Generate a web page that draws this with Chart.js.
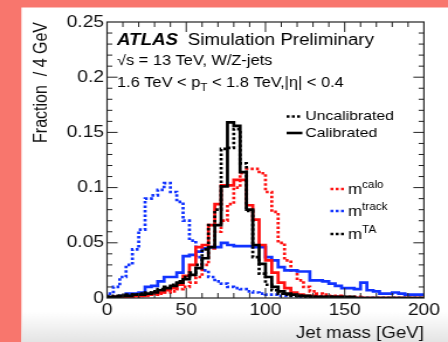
<!DOCTYPE html>
<html>
<head>
<meta charset="utf-8">
<script src="https://cdn.jsdelivr.net/npm/chart.js@4.4.1/dist/chart.umd.min.js"></script>
<style>
  html, body { margin: 0; padding: 0; background: #f8766d; overflow: hidden; }
  #chart { display: block; }
</style>
</head>
<body>
<!-- the plot is drawn narrow and widened by CSS, like the original image -->
<canvas id="chart" width="383" height="342" style="width:448px;height:342px"></canvas>
<script>
// jet mass bins: 50 bins of 4 GeV from 0 to 200
const binWidth = 4;
const xTicks = [0, 50, 100, 150, 200];
const yTicks = [0, 0.05, 0.1, 0.15, 0.2, 0.25];

// m^TA
const taCalibrated = [0.000, 0.001, 0.001, 0.002, 0.002, 0.003, 0.003, 0.004, 0.005, 0.007,
    0.009, 0.011, 0.014, 0.017, 0.021, 0.027, 0.036, 0.046, 0.066, 0.101,
    0.159, 0.156, 0.114, 0.080, 0.048, 0.031, 0.019, 0.010, 0.006, 0.004,
    0.003, 0.002, 0.002, 0.001, 0.001, 0.001, 0.001, 0.001, 0.001, 0.001,
    0.000, 0.000, 0.000, 0.000, 0.000, 0.000, 0.000, 0.000, 0.000, 0.000];
const taUncalibrated = [0.001, 0.001, 0.002, 0.002, 0.003, 0.003, 0.004, 0.005, 0.006, 0.008,
    0.010, 0.012, 0.015, 0.019, 0.023, 0.030, 0.044, 0.066, 0.080, 0.135,
    0.136, 0.153, 0.122, 0.079, 0.037, 0.022, 0.012, 0.007, 0.004, 0.003,
    0.002, 0.002, 0.001, 0.001, 0.001, 0.001, 0.001, 0.000, 0.000, 0.000,
    0.000, 0.000, 0.000, 0.000, 0.000, 0.000, 0.000, 0.000, 0.000, 0.000];

// m^calo
const caloCalibrated = [0.000, 0.000, 0.001, 0.001, 0.001, 0.002, 0.002, 0.003, 0.004, 0.005,
    0.007, 0.009, 0.012, 0.020, 0.030, 0.046, 0.048, 0.066, 0.085, 0.102,
    0.102, 0.107, 0.107, 0.084, 0.071, 0.048, 0.034, 0.023, 0.014, 0.009,
    0.005, 0.003, 0.002, 0.002, 0.001, 0.001, 0.001, 0.001, 0.000, 0.000,
    0.000, 0.000, 0.000, 0.000, 0.000, 0.000, 0.000, 0.000, 0.000, 0.000];
const caloUncalibrated = [0.000, 0.000, 0.000, 0.001, 0.001, 0.001, 0.002, 0.002, 0.003, 0.004,
    0.005, 0.006, 0.008, 0.010, 0.014, 0.019, 0.030, 0.045, 0.060, 0.070,
    0.085, 0.100, 0.113, 0.117, 0.117, 0.113, 0.096, 0.078, 0.050, 0.034,
    0.025, 0.016, 0.010, 0.006, 0.004, 0.003, 0.002, 0.002, 0.001, 0.001,
    0.001, 0.000, 0.000, 0.000, 0.000, 0.000, 0.000, 0.000, 0.000, 0.000];

// m^track
const trackCalibrated = [0.000, 0.000, 0.001, 0.002, 0.004, 0.004, 0.005, 0.010, 0.011, 0.015,
    0.019, 0.019, 0.023, 0.038, 0.039, 0.042, 0.045, 0.046, 0.046, 0.050,
    0.048, 0.047, 0.047, 0.047, 0.046, 0.046, 0.037, 0.034, 0.028, 0.025,
    0.025, 0.024, 0.024, 0.016, 0.016, 0.015, 0.013, 0.011, 0.009, 0.009,
    0.008, 0.014, 0.007, 0.006, 0.004, 0.004, 0.005, 0.004, 0.003, 0.003];
const trackUncalibrated = [0.001, 0.004, 0.010, 0.019, 0.030, 0.044, 0.062, 0.090, 0.093, 0.098,
    0.104, 0.096, 0.087, 0.070, 0.052, 0.037, 0.025, 0.019, 0.015, 0.013,
    0.010, 0.009, 0.008, 0.006, 0.005, 0.004, 0.003, 0.003, 0.002, 0.002,
    0.002, 0.001, 0.001, 0.001, 0.001, 0.001, 0.001, 0.001, 0.000, 0.000,
    0.000, 0.000, 0.000, 0.000, 0.000, 0.000, 0.000, 0.000, 0.000, 0.000];

const red = '#ff1111';
const blue = '#1133ff';
const black = '#000000';
const dotted = [2.5, 2];

// step line points on the bin edges, last edge repeats the last bin
function histPoints(values) {
    let pts = [];
    for (let i = 0; i < values.length; i++) {
        pts.push({ x: i * binWidth, y: values[i] });
    }
    pts.push({ x: values.length * binWidth, y: values[values.length - 1] });
    return pts;
}

function hist(label, values, color, dash) {
    return {
        label: label,
        data: histPoints(values),
        borderColor: color,
        borderWidth: 2.7,
        borderDash: dash,
        stepped: 'after',
        pointRadius: 0,
        fill: false
    };
}

const data = {
    datasets: [
        hist('m^TA calibrated', taCalibrated, black, []),
        hist('m^TA uncalibrated', taUncalibrated, black, dotted),
        hist('m^calo calibrated', caloCalibrated, red, []),
        hist('m^track calibrated', trackCalibrated, blue, []),
        hist('m^calo uncalibrated', caloUncalibrated, red, dotted),
        hist('m^track uncalibrated', trackUncalibrated, blue, dotted)
    ]
};

const font = '"Liberation Sans", Arial, Helvetica, sans-serif';

// white page, pink frame, grey fade at the bottom
const background = {
    id: 'page_background',
    beforeDraw: (chart) => {
        const ctx = chart.ctx;
        ctx.save();
        ctx.fillStyle = '#f8766d';
        ctx.fillRect(0, 0, chart.width, chart.height);
        ctx.fillStyle = '#ffffff';
        ctx.fillRect(18.3, 7.5, chart.width, chart.height);
        const g = ctx.createLinearGradient(0, 312, 0, chart.height);
        g.addColorStop(0, 'rgba(228,228,228,0)');
        g.addColorStop(1, 'rgba(228,228,228,1)');
        ctx.fillStyle = g;
        ctx.fillRect(18.3, 312, chart.width, chart.height - 312);
        ctx.restore();
    }
};

// ROOT style frame with inward major and minor ticks on all four sides
const frame = {
    id: 'root_frame',
    afterDatasetsDraw: (chart) => {
        const ctx = chart.ctx;
        const a = chart.chartArea;
        const xs = chart.scales.x;
        const ys = chart.scales.y;
        ctx.save();
        ctx.strokeStyle = '#222';
        ctx.lineWidth = 1;
        ctx.beginPath();
        for (let v = 10; v < 200; v += 10) {
            const px = xs.getPixelForValue(v);
            const len = (v % 50 === 0) ? 10 : 5;
            ctx.moveTo(px, a.bottom); ctx.lineTo(px, a.bottom - len);
            ctx.moveTo(px, a.top); ctx.lineTo(px, a.top + len);
        }
        for (let k = 1; k < 25; k++) {
            const py = ys.getPixelForValue(k / 100);
            const len = (k % 5 === 0) ? 9 : 4.5;
            ctx.moveTo(a.left, py); ctx.lineTo(a.left + len, py);
            ctx.moveTo(a.right, py); ctx.lineTo(a.right - len, py);
        }
        ctx.stroke();
        ctx.lineWidth = 1.2;
        ctx.strokeRect(a.left, a.top, a.right - a.left, a.bottom - a.top);
        ctx.restore();
    }
};

// label and legend text inside the frame
function sample(ctx, x, y, color, dash) {
    ctx.save();
    ctx.strokeStyle = color;
    ctx.lineWidth = 2.6;
    ctx.setLineDash(dash);
    ctx.beginPath();
    ctx.moveTo(x, y);
    ctx.lineTo(x + 13.5, y);
    ctx.stroke();
    ctx.restore();
}

const labels = {
    id: 'atlas_labels',
    afterDraw: (chart) => {
        const ctx = chart.ctx;
        ctx.save();
        ctx.fillStyle = '#000';
        ctx.textBaseline = 'alphabetic';

        ctx.font = 'italic bold 16px ' + font;
        ctx.fillText('ATLAS', 100, 45);
        ctx.font = '16px ' + font;
        ctx.fillText('Simulation Preliminary', 160.5, 45);

        ctx.font = '14px ' + font;
        ctx.fillText('\u221As = 13 TeV, W/Z-jets', 100, 65);

        let x = 100;
        const line = [['1.6 TeV < p', 0], ['T', 4], [' < 1.8 TeV,|\u03B7| < 0.4', 0]];
        for (const [t, dy] of line) {
            ctx.font = (dy ? '10px ' : '14px ') + font;
            ctx.fillText(t, x, 87 + dy);
            x += ctx.measureText(t).width;
        }

        ctx.font = '13.5px ' + font;
        sample(ctx, 245, 116.5, black, dotted);
        ctx.fillText('Uncalibrated', 261, 119.5);
        sample(ctx, 245, 133, black, []);
        ctx.fillText('Calibrated', 261, 137);

        const entries = [['calo', red, 189], ['track', blue, 211], ['TA', black, 234]];
        for (const [sup, color, y] of entries) {
            sample(ctx, 282.5, y, color, dotted);
            ctx.font = '14.5px ' + font;
            ctx.fillText('m', 297.5, y + 5);
            const w = ctx.measureText('m').width;
            ctx.font = '10px ' + font;
            ctx.fillText(sup, 297.5 + w, y - 1);
        }
        ctx.restore();
    }
};

const config = {
    type: 'line',
    data: data,
    options: {
        responsive: false,
        animation: false,
        layout: {
            padding: { left: 0, right: 20.6, top: 22, bottom: 0 }
        },
        plugins: {
            legend: { display: false },
            tooltip: { enabled: false }
        },
        scales: {
            x: {
                type: 'linear',
                min: 0,
                max: 200,
                afterBuildTicks: (scale) => {
                    scale.ticks = xTicks.map(v => ({ value: v }));
                },
                afterFit: (scale) => { scale.height = 44; },
                grid: { display: false, drawTicks: false },
                border: { display: false },
                ticks: {
                    color: '#111',
                    padding: 3,
                    maxRotation: 0,
                    font: { family: font, size: 16.5 }
                },
                title: {
                    display: true,
                    text: 'Jet mass [GeV]',
                    align: 'end',
                    color: '#111',
                    padding: 0,
                    font: { family: font, size: 16, lineHeight: 1 }
                }
            },
            y: {
                min: 0,
                max: 0.25,
                afterBuildTicks: (scale) => {
                    scale.ticks = yTicks.map(v => ({ value: v }));
                },
                afterFit: (scale) => { scale.width = 91.5; },
                grid: { display: false, drawTicks: false },
                border: { display: false },
                ticks: {
                    color: '#111',
                    padding: 2.5,
                    font: { family: font, size: 16.5 },
                    callback: (v) => String(v)
                },
                title: {
                    display: true,
                    text: 'Fraction  / 4 GeV',
                    align: 'end',
                    color: '#111',
                    padding: { top: 28 },
                    font: { family: font, size: 16, lineHeight: 1 }
                }
            }
        }
    },
    plugins: [background, frame, labels]
};

let chart = new Chart(document.getElementById('chart'), config);
</script>
</body>
</html>
